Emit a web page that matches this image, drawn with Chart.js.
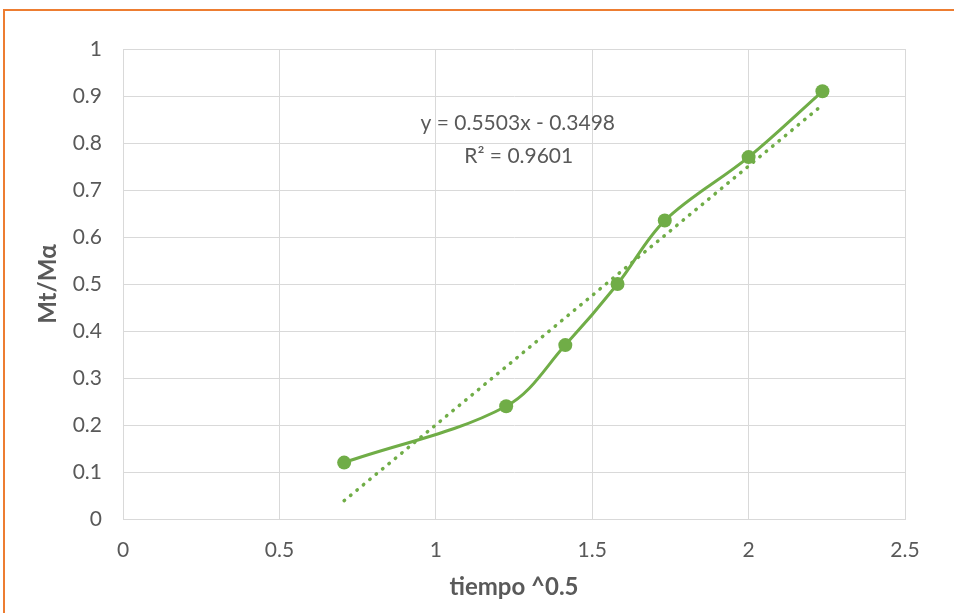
<!DOCTYPE html>
<html>
<head>
<meta charset="utf-8">
<script src="https://cdn.jsdelivr.net/npm/chart.js@4/dist/chart.umd.min.js"></script>
<style>
  html, body { margin: 0; padding: 0; background: #ffffff; overflow: hidden; }
  #frame { position: absolute; left: 3px; top: 9px; width: 1000px; height: 700px;
           border-left: 2px solid #ED7D31; border-top: 2px solid #ED7D31; }
  #wrap { position: absolute; left: 0; top: 0; width: 954px; height: 613px; }
</style>
</head>
<body>
<div id="frame"></div>
<div id="wrap"><canvas id="c" width="954" height="613"></canvas></div>
<script>
// ---- data ----
const xValues = [0.707, 1.225, 1.414, 1.581, 1.732, 2.0, 2.236];
const yValues = [0.12, 0.24, 0.37, 0.50, 0.635, 0.77, 0.91];
const trendX = [0.707, 2.236];
const trendY = [0.039, 0.881];
const equationLines = ['y = 0.5503x - 0.3498', 'R\u00B2 = 0.9601'];
const xTitle = 'tiempo ^0.5';
const yTitle = 'Mt/M\u03B1';

const GREEN = '#70AD47';
const TEXT = '#595959';
const GRID = '#D9D9D9';
const FONT = 'Lato, "Open Sans", sans-serif';

const points = xValues.map((x, i) => ({ x: x, y: yValues[i] }));
const trend = trendX.map((x, i) => ({ x: x, y: trendY[i] }));

const eqPlugin = {
  id: 'eqLabel',
  afterDatasetsDraw(chart, args, opts) {
    const { ctx, scales } = chart;
    const cx = scales.x.getPixelForValue(opts.x);
    const cy = scales.y.getPixelForValue(opts.y);
    ctx.save();
    ctx.fillStyle = TEXT;
    ctx.font = '21px ' + FONT;
    ctx.textAlign = 'center';
    ctx.textBaseline = 'middle';
    ctx.fillText(equationLines[0], cx, cy);
    ctx.fillText(equationLines[1], cx + 1, cy + 33);
    ctx.restore();
  }
};

new Chart(document.getElementById('c'), {
  type: 'scatter',
  data: {
    datasets: [
      {
        data: points,
        showLine: true,
        borderColor: GREEN,
        backgroundColor: GREEN,
        borderWidth: 3,
        pointRadius: 7,
        pointHoverRadius: 7,
        pointBorderWidth: 0,
        tension: 0.35,
        order: 1
      },
      {
        data: trend,
        showLine: true,
        borderColor: GREEN,
        borderWidth: 3.5,
        borderDash: [0.5, 7.8],
        borderCapStyle: 'round',
        pointRadius: 0,
        order: 2
      }
    ]
  },
  options: {
    responsive: false,
    animation: false,
    events: [],
    layout: { padding: { left: 0, right: 49, top: 49, bottom: 0 } },
    plugins: {
      legend: { display: false },
      tooltip: { enabled: false },
      eqLabel: { x: 1.262, y: 0.842 }
    },
    scales: {
      x: {
        type: 'linear',
        min: 0, max: 2.5,
        ticks: { stepSize: 0.5, color: TEXT, font: { family: FONT, size: 21 }, padding: 19,
                 callback: v => String(Math.round(v * 10) / 10) },
        grid: { color: GRID, lineWidth: 1, drawTicks: false },
        border: { color: GRID, width: 1 },
        title: { display: true, text: xTitle, color: TEXT,
                 font: { family: FONT, size: 24, weight: 'bold' }, padding: { top: 0, bottom: 11 } },
        afterFit(s) { s.height = 94; }
      },
      y: {
        type: 'linear',
        min: 0, max: 1,
        ticks: { stepSize: 0.1, color: TEXT, font: { family: FONT, size: 21 }, padding: 21,
                 callback: v => String(Math.round(v * 10) / 10) },
        grid: { color: GRID, lineWidth: 1, drawTicks: false },
        border: { color: GRID, width: 1 },
        title: { display: true, text: yTitle, color: TEXT,
                 font: { family: FONT, size: 24, weight: 'bold' }, padding: { top: 34, bottom: 0 } },
        afterFit(s) { s.width = 123; }
      }
    }
  },
  plugins: [eqPlugin]
});
</script>
</body>
</html>
